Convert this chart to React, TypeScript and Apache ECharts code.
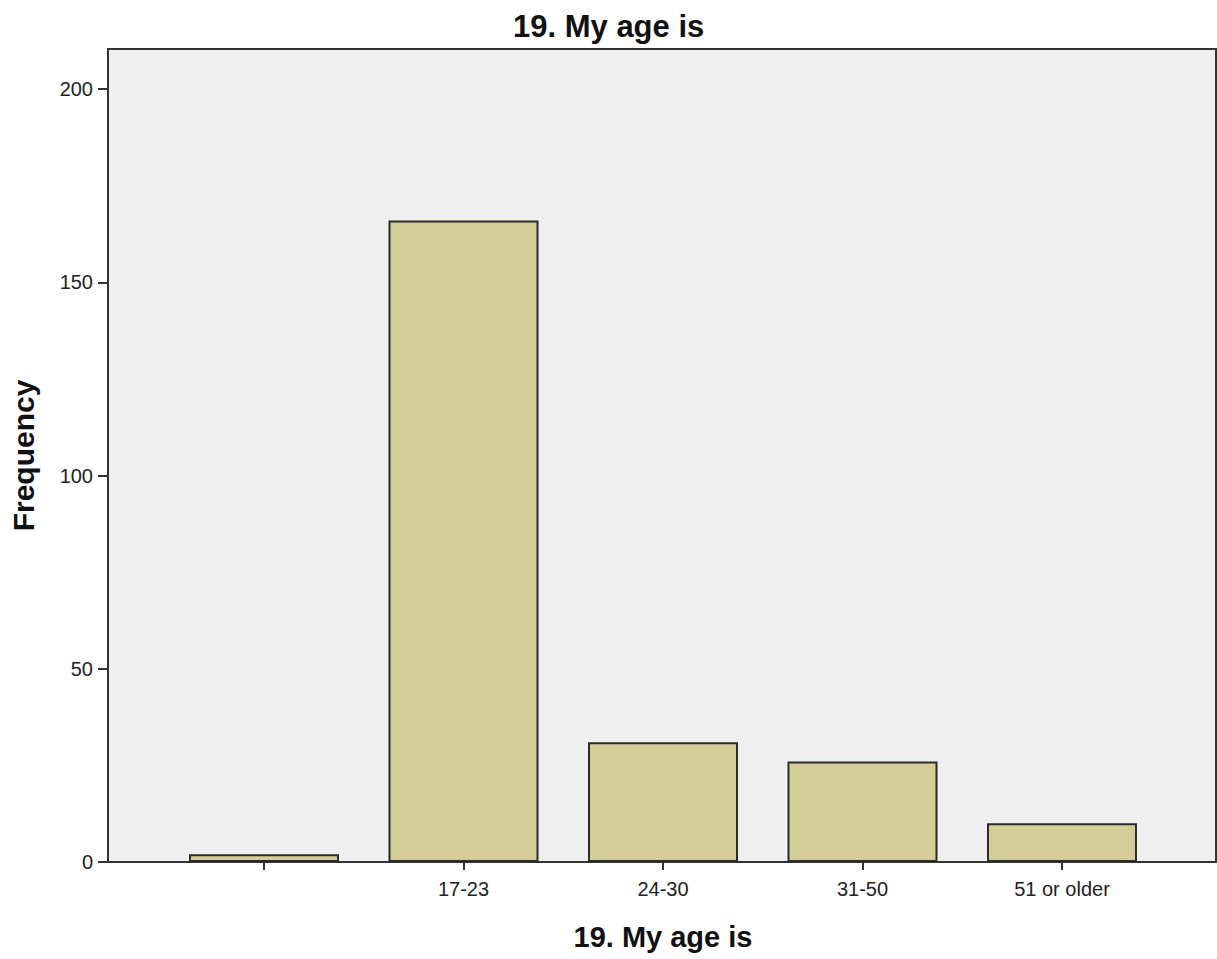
import React, { useEffect, useRef } from "react";
import * as echarts from "echarts";

const categories = ["", "17-23", "24-30", "31-50", "51 or older"];
const frequencies = [2, 166, 31, 26, 10];
const yTicks = [0, 50, 100, 150, 200];
const titleText = "19. My age is";
const yName = "Frequency";

const FONT = "Arial, 'Liberation Sans', sans-serif";
const YMAX = 210.4;

export default function App() {
  const ref = useRef<HTMLDivElement>(null);
  useEffect(() => {
    if (!ref.current) return;
    const chart = echarts.init(ref.current, undefined, { renderer: "svg" });
    chart.setOption({
      animation: false,
      backgroundColor: "#ffffff",
      title: {
        text: titleText,
        left: 508,
        top: 6,
        textStyle: { fontFamily: FONT, fontSize: 31, fontWeight: "bold", color: "#111" },
      },
      grid: [
        {
          left: 108,
          top: 49,
          width: 1108,
          height: 813,
          show: true,
          backgroundColor: "#efefef",
          borderColor: "#333333",
          borderWidth: 2,
        },
        { left: 164.25, top: 49, width: 997.5, height: 813 },
      ],
      xAxis: [
        {
          type: "value",
          gridIndex: 0,
          min: 0,
          max: 1,
          axisLine: { show: false },
          axisTick: { show: false },
          axisLabel: { show: false },
          splitLine: { show: false },
        },
        {
          type: "category",
          gridIndex: 1,
          data: categories,
          boundaryGap: true,
          name: titleText,
          nameLocation: "middle",
          nameGap: 60,
          nameTextStyle: { fontFamily: FONT, fontSize: 29, fontWeight: "bold", color: "#111" },
          axisLine: { show: false },
          axisTick: {
            show: true,
            alignWithLabel: true,
            length: 8,
            lineStyle: { color: "#333", width: 2 },
          },
          axisLabel: { fontFamily: FONT, fontSize: 20, color: "#222", margin: 17 },
          splitLine: { show: false },
        },
      ],
      yAxis: [
        {
          type: "value",
          gridIndex: 0,
          min: 0,
          max: YMAX,
          name: yName,
          nameLocation: "middle",
          nameGap: 70,
          nameTextStyle: { fontFamily: FONT, fontSize: 30, fontWeight: "bold", color: "#111" },
          axisLine: { show: false },
          axisTick: {
            show: true,
            length: 10,
            customValues: yTicks,
            lineStyle: { color: "#333", width: 2 },
          },
          axisLabel: {
            fontFamily: FONT,
            fontSize: 20,
            color: "#222",
            margin: 15,
            customValues: yTicks,
          },
          splitLine: { show: false },
        },
        {
          type: "value",
          gridIndex: 1,
          min: 0,
          max: YMAX,
          show: false,
          splitLine: { show: false },
        },
      ],
      series: [
        {
          type: "bar",
          xAxisIndex: 1,
          yAxisIndex: 1,
          data: frequencies,
          barWidth: 150,
          itemStyle: { color: "#d3ce97", borderColor: "#2b2b2b", borderWidth: 2 },
        },
      ],
    });
    return () => chart.dispose();
  }, []);
  return (
    <div
      ref={ref}
      style={{ position: "fixed", left: 0, top: 0, width: 1217, height: 959 }}
    />
  );
}
